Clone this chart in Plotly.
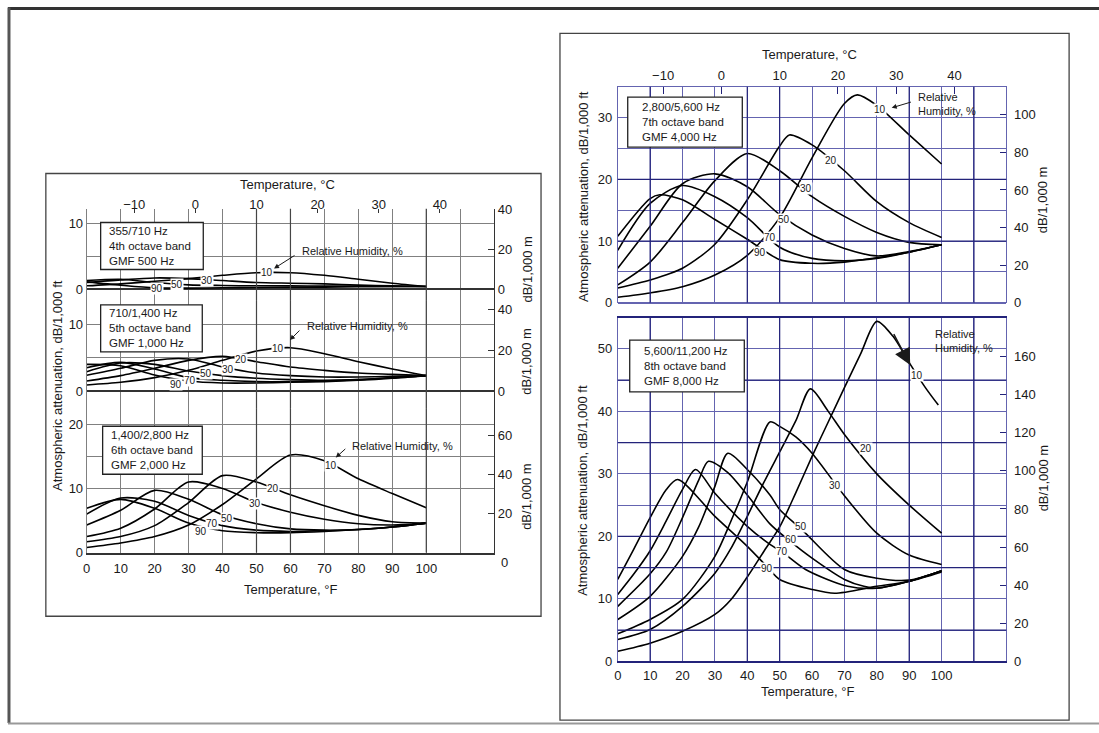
import plotly.graph_objects as go

W, H = 1099, 733
FONT = "Liberation Sans, Arial, sans-serif"
M_PER_FT = 3.2808  # dB/1,000 m -> dB/1,000 ft divisor

# ---------------- data (°F, dB/1,000 ft) ----------------
T_STD = [0, 10, 20, 30, 40, 50, 60, 70, 80, 90, 100]

# 4th octave band, GMF 500 Hz
A_RH10 = [0.5, 0.8, 1.2, 1.6, 2.1, 2.5, 2.5, 2.1, 1.5, 0.9, 0.4]
A_RH30 = [1.0, 1.4, 1.7, 1.6, 1.3, 1.0, 0.9, 0.8, 0.6, 0.5, 0.4]
A_RH50 = [1.3, 1.5, 1.0, 0.65, 0.55, 0.5, 0.5, 0.45, 0.45, 0.4, 0.4]
A_RH90 = [1.1, 0.6, 0.2, 0.15, 0.2, 0.25, 0.3, 0.3, 0.35, 0.4, 0.4]

# 5th octave band, GMF 1,000 Hz
B_RH10 = [0.9, 1.3, 2.0, 3.1, 4.6, 6.0, 6.5, 5.6, 4.4, 3.3, 2.3]
B_RH20 = [1.5, 2.3, 3.4, 4.6, 5.2, 4.4, 3.6, 3.1, 2.7, 2.5, 2.3]
B_RH30 = [2.35, 3.4, 4.6, 4.8, 3.6, 2.7, 2.3, 2.1, 2.1, 2.2, 2.3]
B_RH50 = [2.9, 4.2, 4.0, 3.0, 2.3, 1.9, 1.7, 1.6, 1.7, 2.0, 2.3]
B_RH70 = [3.5, 4.3, 3.3, 2.0, 1.6, 1.4, 1.4, 1.5, 1.7, 2.0, 2.3]
B_RH90 = [4.0, 3.8, 2.4, 1.5, 1.2, 1.2, 1.3, 1.4, 1.6, 1.9, 2.3]

# 6th octave band, GMF 2,000 Hz
C_RH10 = [0.8, 1.5, 2.5, 4.3, 7.5, 11.5, 15.2, 14.3, 11.5, 9.2, 7.0]
C_RH20 = [1.7, 2.5, 4.2, 7.8, 12.0, 11.0, 9.0, 7.3, 5.8, 4.8, 4.6]
C_RH30 = [2.5, 3.8, 6.8, 11.0, 10.0, 7.8, 6.3, 5.2, 4.5, 4.3, 4.6]
C_RH50 = [4.3, 6.6, 9.7, 8.3, 5.9, 4.5, 3.7, 3.5, 3.6, 4.0, 4.6]
C_RH70 = [6.0, 8.5, 8.0, 5.8, 4.2, 3.5, 3.3, 3.4, 3.6, 4.0, 4.6]
C_RH90 = [6.9, 8.3, 6.9, 4.6, 3.4, 3.1, 3.1, 3.3, 3.6, 4.0, 4.6]

# 7th octave band, GMF 4,000 Hz
D_T10 = [0, 10, 20, 30, 40, 50, 60, 70, 74, 80, 90, 100]
D_RH10 = [0.9, 1.6, 2.6, 4.5, 7.7, 13.8, 23.5, 32.3, 33.7, 32.0, 27.2, 22.5]
D_T20 = [0, 10, 20, 30, 40, 50, 53, 60, 70, 80, 90, 100]
D_RH20 = [2.4, 3.7, 5.6, 9.5, 16.7, 25.4, 27.2, 25.6, 21.4, 16.4, 13.0, 10.6]
D_RH30 = [2.9, 6.6, 13.0, 19.8, 24.2, 21.4, 17.2, 14.0, 11.4, 9.8, 9.4]
D_RH50 = [5.6, 12.4, 19.3, 20.9, 18.8, 14.3, 11.0, 8.8, 7.6, 8.3, 9.4]
D_RH70 = [8.5, 16.1, 19.0, 17.2, 13.8, 9.0, 7.2, 6.8, 7.2, 8.2, 9.4]
D_T90 = [0, 10, 13, 20, 30, 40, 50, 60, 70, 80, 90, 100]
D_RH90 = [10.8, 16.9, 17.5, 16.7, 13.5, 10.3, 7.0, 6.4, 6.6, 7.3, 8.2, 9.4]

# 8th octave band, GMF 8,000 Hz
E_T10 = [0, 10, 20, 30, 35, 40, 45, 50, 55, 60, 65, 70, 75, 80, 85, 90, 95, 99]
E_RH10 = [1.6, 2.9, 4.8, 7.5, 9.9, 13.5, 17.5, 21.5, 27.0, 32.8, 38.3, 43.8, 49.2, 54.4, 52.0, 47.8, 43.8, 41.0]
E_T20 = [0, 10, 20, 30, 35, 40, 45, 50, 55, 59.5, 65, 70, 80, 90, 100]
E_RH20 = [3.5, 5.1, 8.8, 14.1, 18.1, 23.2, 28.5, 33.5, 38.5, 43.6, 40.0, 36.3, 30.0, 25.0, 20.5]
E_T30 = [0, 10, 20, 30, 35, 40, 47, 50, 55, 60, 70, 80, 90, 100]
E_RH30 = [4.4, 6.7, 9.9, 16.8, 22.5, 28.7, 38.3, 37.6, 35.9, 33.3, 26.5, 20.5, 17.0, 15.5]
E_T50 = [0, 10, 20, 25, 30, 34, 40, 47, 50, 57, 70, 80, 90, 100]
E_RH50 = [6.7, 10.4, 16.8, 21.5, 28.0, 33.3, 30.7, 26.6, 24.3, 21.0, 14.7, 13.3, 13.0, 14.5]
E_T60 = [0, 10, 15, 20, 25, 28, 34, 40, 47, 53, 60, 70, 76, 80, 90, 100]
E_RH60 = [8.8, 14.0, 17.5, 23.0, 29.0, 32.0, 30.2, 26.6, 22.0, 19.3, 16.5, 13.1, 12.0, 11.7, 12.8, 14.5]
E_T70 = [0, 5, 10, 15, 20, 24, 30, 40, 47, 51, 58, 71, 80, 90, 100]
E_RH70 = [10.7, 14.0, 17.7, 22.5, 27.5, 30.7, 26.9, 21.6, 18.7, 17.4, 14.7, 12.0, 11.7, 12.8, 14.5]
E_T90 = [0, 5, 10, 15, 18.5, 30, 40, 46, 50, 60, 67, 80, 90, 100]
E_RH90 = [13.1, 18.0, 23.0, 27.5, 29.1, 23.2, 18.4, 15.2, 13.1, 11.5, 10.9, 12.0, 12.8, 14.3]

F_TICKS = [0, 10, 20, 30, 40, 50, 60, 70, 80, 90, 100, 110]
C_TICKS = [-10, 0, 10, 20, 30, 40]

# heavier grid lines seen in the scan
L_DARK_F = [50, 60, 100]
R_DARK_F = [10, 40, 50, 90, 110]
D_DARK_Y = [10, 20]
E_DARK_Y = [5, 15, 20, 35, 45]

# band boxes
BOX_A = ["355/710 Hz", "4th octave band", "GMF 500 Hz"]
BOX_B = ["710/1,400 Hz", "5th octave band", "GMF 1,000 Hz"]
BOX_C = ["1,400/2,800 Hz", "6th octave band", "GMF 2,000 Hz"]
BOX_D = ["2,800/5,600 Hz", "7th octave band", "GMF 4,000 Hz"]
BOX_E = ["5,600/11,200 Hz", "8th octave band", "GMF 8,000 Hz"]

# curve labels (°F, value)
LBL_A = [("10", 53, 2.5), ("30", 35.3, 1.35), ("50", 26.5, 0.7), ("90", 20.6, 0.1)]
LBL_B = [("10", 56.3, 6.4), ("20", 45.3, 4.7), ("30", 41.6, 3.3), ("50", 35, 2.6), ("70", 30.4, 1.6), ("90", 26.4, 1.0)]
LBL_C = [("10", 72, 13.6), ("20", 54.8, 10.0), ("30", 49.5, 7.7), ("50", 41.3, 5.3), ("70", 36.9, 4.6), ("90", 33.8, 3.3)]
LBL_D = [("10", 81, 31.3), ("20", 66, 23.0), ("30", 58, 18.5), ("50", 51.3, 13.5), ("70", 47, 10.6), ("90", 44, 8.2)]
LBL_E = [("10", 92.5, 45.7), ("20", 76.7, 34.1), ("30", 67.2, 28.2), ("50", 56.6, 21.6), ("60", 53.4, 19.5), ("70", 50.8, 17.6), ("90", 46, 14.9)]

# ---------------- geometry helpers ----------------
def fx(px):
    return px / W

def fy(py):
    return 1 - py / H

def ydom(top, bot, zero, ppu):
    return [fy(bot), fy(top)], [(zero - bot) / ppu, (zero - top) / ppu]

L_X0, L_X120 = 83, 492
R_X0, R_X120 = 616, 1006
XDOM_L = [fx(L_X0), fx(L_X120)]
XDOM_R = [fx(R_X0), fx(R_X120)]
F_RANGE = [0, 120]
C_RANGE = [(0 - 32) / 1.8, (120 - 32) / 1.8]

DOM_A, RNG_A = ydom(206, 300, 288, 6.7)
DOM_B, RNG_B = ydom(300, 410, 392, 6.8)
DOM_C, RNG_C = ydom(410, 557, 557, 6.55)
DOM_D, RNG_D = ydom(81.5, 302, 302, 6.3)
DOM_E, RNG_E = ydom(317, 668, 668, 6.38)

GRAY = "#808080"
GRAY_D = "#454545"
DARK = "#333333"
BLUE = "#6464b0"
NAVY = "#23237a"

fig = go.Figure()

def curve(t, v, xa, ya):
    fig.add_trace(go.Scatter(x=t, y=v, xaxis=xa, yaxis=ya, mode="lines",
                             line=dict(color="black", width=1.6, shape="spline", smoothing=0.8),
                             showlegend=False, hoverinfo="skip"))

for v in (A_RH10, A_RH30, A_RH50, A_RH90):
    curve(T_STD, v, "x", "y")
for v in (B_RH10, B_RH20, B_RH30, B_RH50, B_RH70, B_RH90):
    curve(T_STD, v, "x", "y2")
for v in (C_RH10, C_RH20, C_RH30, C_RH50, C_RH70, C_RH90):
    curve(T_STD, v, "x", "y3")
curve(D_T10, D_RH10, "x3", "y7")
curve(D_T20, D_RH20, "x3", "y7")
curve(T_STD, D_RH30, "x3", "y7")
curve(T_STD, D_RH50, "x3", "y7")
curve(T_STD, D_RH70, "x3", "y7")
curve(D_T90, D_RH90, "x3", "y7")
for t, v in ((E_T10, E_RH10), (E_T20, E_RH20), (E_T30, E_RH30), (E_T50, E_RH50),
             (E_T60, E_RH60), (E_T70, E_RH70), (E_T90, E_RH90)):
    curve(t, v, "x3", "y8")

# placeholders so that the overlay axes are drawn
for xa, ya in (("x2", "y"), ("x", "y4"), ("x", "y5"), ("x", "y6"),
               ("x4", "y7"), ("x3", "y9"), ("x3", "y10")):
    fig.add_trace(go.Scatter(x=[None], y=[None], xaxis=xa, yaxis=ya, mode="lines",
                             showlegend=False, hoverinfo="skip"))

TICKF = dict(family=FONT, size=13, color="#1a1a1a")

def lab(vals, show):
    return [str(v) if v in show else "" for v in vals]

layout = dict(
    width=W, height=H, autosize=False,
    margin=dict(l=0, r=0, t=0, b=0),
    paper_bgcolor="white", plot_bgcolor="white",
    font=dict(family=FONT, size=13, color="#1a1a1a"),
    showlegend=False,
    # ---- left panel ----
    xaxis=dict(domain=XDOM_L, range=F_RANGE, anchor="y3", tickvals=F_TICKS,
               ticktext=lab(F_TICKS, range(0, 101, 10)), ticks="", showgrid=True,
               gridcolor=GRAY, gridwidth=1, zeroline=False, showline=True, linecolor=DARK,
               linewidth=1.5, tickfont=TICKF, ticklabelstandoff=3),
    xaxis2=dict(overlaying="x", anchor="y", side="top", range=C_RANGE, tickvals=C_TICKS,
                ticks="inside", ticklen=4, tickcolor=DARK, showgrid=False, zeroline=False,
                showline=False, tickfont=TICKF, ticklabelstandoff=-4),
    yaxis=dict(domain=DOM_A, range=RNG_A, anchor="x", tickvals=[0, 5, 10], ticktext=["0", "", "10"],
               ticks="", showgrid=True, gridcolor=GRAY, zeroline=True, zerolinecolor=DARK,
               zerolinewidth=2, showline=True, linecolor=GRAY, tickfont=TICKF),
    yaxis2=dict(domain=DOM_B, range=RNG_B, anchor="x", tickvals=[0, 5, 10], ticktext=["0", "", "10"],
                ticks="", showgrid=True, gridcolor=GRAY, zeroline=True, zerolinecolor=DARK,
                zerolinewidth=2, showline=True, linecolor=GRAY, tickfont=TICKF),
    yaxis3=dict(domain=DOM_C, range=RNG_C, anchor="x", tickvals=[0, 10, 15, 20],
                ticktext=["0", "10", "", "20"], ticks="", showgrid=True, gridcolor=GRAY,
                zeroline=False, showline=True, linecolor=GRAY, tickfont=TICKF),
    yaxis4=dict(overlaying="y", side="right", anchor="x", range=RNG_A,
                tickvals=[v / M_PER_FT for v in (0, 20, 40)], ticktext=["0", "20", "40"],
                ticks="inside", ticklen=6, tickcolor=DARK, showgrid=False, zeroline=False,
                showline=True, linecolor=DARK, tickfont=TICKF),
    yaxis5=dict(overlaying="y2", side="right", anchor="x", range=RNG_B,
                tickvals=[v / M_PER_FT for v in (0, 20, 40)], ticktext=["0", "20", "40"],
                ticks="inside", ticklen=6, tickcolor=DARK, showgrid=False, zeroline=False,
                showline=True, linecolor=DARK, tickfont=TICKF),
    yaxis6=dict(overlaying="y3", side="right", anchor="x", range=RNG_C,
                tickvals=[v / M_PER_FT for v in (20, 40, 60)], ticktext=["20", "40", "60"],
                ticks="inside", ticklen=6, tickcolor=DARK, showgrid=False, zeroline=False,
                showline=True, linecolor=DARK, tickfont=TICKF),
    # ---- right panel ----
    xaxis3=dict(domain=XDOM_R, range=F_RANGE, anchor="y8", tickvals=F_TICKS,
                ticktext=lab(F_TICKS, range(0, 101, 10)), ticks="", showgrid=True,
                gridcolor=BLUE, gridwidth=1, zeroline=False, showline=True, mirror=True,
                linecolor=NAVY, linewidth=1.5, tickfont=TICKF, ticklabelstandoff=1),
    xaxis4=dict(overlaying="x3", anchor="y7", side="top", range=C_RANGE, tickvals=C_TICKS,
                ticks="inside", ticklen=7, tickcolor=NAVY, showgrid=False, zeroline=False,
                showline=True, linecolor=BLUE, tickfont=TICKF, ticklabelstandoff=1),
    yaxis7=dict(domain=DOM_D, range=RNG_D, anchor="x3", tickvals=list(range(0, 36, 5)),
                ticktext=lab(range(0, 36, 5), (0, 10, 20, 30)), ticks="", showgrid=True,
                gridcolor=BLUE, zeroline=True, zerolinecolor=BLUE, zerolinewidth=1.5,
                showline=True, linecolor=BLUE, tickfont=TICKF, ticklabelstandoff=2),
    yaxis8=dict(domain=DOM_E, range=RNG_E, anchor="x3", tickvals=list(range(0, 56, 5)),
                ticktext=lab(range(0, 56, 5), (0, 10, 20, 30, 40, 50)), ticks="", showgrid=True,
                gridcolor=BLUE, zeroline=False, showline=True, linecolor=BLUE, tickfont=TICKF,
                ticklabelstandoff=2),
    yaxis9=dict(overlaying="y7", side="right", anchor="x3", range=RNG_D,
                tickvals=[v / M_PER_FT for v in range(0, 101, 20)],
                ticktext=[str(v) for v in range(0, 101, 20)], ticks="inside", ticklen=6,
                tickcolor=NAVY, showgrid=False, zeroline=False, showline=True, linecolor=BLUE,
                tickfont=TICKF, ticklabelstandoff=4),
    yaxis10=dict(overlaying="y8", side="right", anchor="x3", range=RNG_E,
                 tickvals=[v / M_PER_FT for v in range(0, 161, 20)],
                 ticktext=[str(v) for v in range(0, 161, 20)], ticks="inside", ticklen=6,
                 tickcolor=NAVY, showgrid=False, zeroline=False, showline=True, linecolor=BLUE,
                 tickfont=TICKF, ticklabelstandoff=4),
)
fig.update_layout(**layout)

shapes = []
ann = []

# heavier grid lines (listed first so the band boxes cover them)
for f in L_DARK_F:
    for yd in ("y domain", "y2 domain", "y3 domain"):
        shapes.append(dict(type="line", xref="x", yref=yd, x0=f, x1=f, y0=0, y1=1,
                           line=dict(color=GRAY_D, width=1.2), layer="above"))
for f in R_DARK_F:
    for yd in ("y7 domain", "y8 domain"):
        shapes.append(dict(type="line", xref="x3", yref=yd, x0=f, x1=f, y0=0, y1=1,
                           line=dict(color=NAVY, width=1.2), layer="above"))
for v in D_DARK_Y:
    shapes.append(dict(type="line", xref="x3 domain", yref="y7", x0=0, x1=1, y0=v, y1=v,
                       line=dict(color=NAVY, width=1.2), layer="above"))
for v in E_DARK_Y:
    shapes.append(dict(type="line", xref="x3 domain", yref="y8", x0=0, x1=1, y0=v, y1=v,
                       line=dict(color=NAVY, width=1.2), layer="above"))

# outer frame of the page (kept inside the canvas)
shapes.append(dict(type="line", xref="paper", yref="paper", x0=fx(4), x1=1.0, y0=fy(1.5), y1=fy(1.5),
                   line=dict(color="#333", width=3)))
shapes.append(dict(type="line", xref="paper", yref="paper", x0=fx(5), x1=fx(5), y0=fy(0.5), y1=fy(731),
                   line=dict(color="#555", width=3)))
shapes.append(dict(type="line", xref="paper", yref="paper", x0=fx(4), x1=1.0, y0=fy(731.5), y1=fy(731.5),
                   line=dict(color="#999", width=2)))
# panel frames
for x0, y0, x1, y1 in ((42, 170, 539, 622), (558, 27, 1069, 728)):
    shapes.append(dict(type="rect", xref="paper", yref="paper", x0=fx(x0), x1=fx(x1), y0=fy(y0), y1=fy(y1),
                       line=dict(color="#444", width=1.3), layer="below"))

# band boxes
def band_box(lines, x0, y0, x1, y1, tx):
    shapes.append(dict(type="rect", xref="paper", yref="paper", x0=fx(x0), x1=fx(x1), y0=fy(y0), y1=fy(y1),
                       line=dict(color="#222", width=1.3), fillcolor="white", layer="above"))
    ann.append(dict(xref="paper", yref="paper", x=fx(tx), y=fy((y0 + y1) / 2), xanchor="left",
                    yanchor="middle", align="left", showarrow=False, text="<br>".join(lines),
                    font=dict(family=FONT, size=11.5, color="#1a1a1a")))

band_box(BOX_A, 97, 220, 200, 268, 103)
band_box(BOX_B, 97, 304, 199, 352, 103)
band_box(BOX_C, 99, 428, 199, 477, 105)
band_box(BOX_D, 626, 92, 741, 143, 638)
band_box(BOX_E, 628, 340, 743, 393, 640)

# curve labels
def curve_labels(lbls, xr, yr):
    for txt, t, v in lbls:
        ann.append(dict(xref=xr, yref=yr, x=t, y=v, text=txt, showarrow=False, bgcolor="white",
                        borderpad=0, xanchor="center", yanchor="middle",
                        font=dict(family=FONT, size=10, color="#1a1a1a")))

curve_labels(LBL_A, "x", "y")
curve_labels(LBL_B, "x", "y2")
curve_labels(LBL_C, "x", "y3")
curve_labels(LBL_D, "x3", "y7")
curve_labels(LBL_E, "x3", "y8")

RHF = dict(family=FONT, size=11, color="#1a1a1a")

def arrow_data(x, y, ax, ay, xr, yr, size=1.0, width=1.0):
    ann.append(dict(xref=xr, yref=yr, x=x, y=y, ax=ax, ay=ay, axref=xr, ayref=yr, text="",
                    showarrow=True, arrowhead=2, arrowsize=size, arrowwidth=width, arrowcolor="#1a1a1a"))

def arrow_px(hx, hy, sx, sy):
    ann.append(dict(xref="paper", yref="paper", x=fx(hx), y=fy(hy), ax=sx - hx, ay=sy - hy,
                    axref="pixel", ayref="pixel", text="", showarrow=True, arrowhead=2,
                    arrowsize=1.0, arrowwidth=1.0, arrowcolor="#1a1a1a"))

# "Relative Humidity, %" notes, left panel (pixel placed)
for tx, ty, hx, hy, sx, sy in ((297, 249, 271, 267, 293, 253),
                               (302, 326, 287, 340, 298, 329),
                               (347, 448, 333, 460, 344, 450)):
    ann.append(dict(xref="paper", yref="paper", x=fx(tx), y=fy(ty), xanchor="left", yanchor="middle",
                    text="Relative Humidity, %", showarrow=False, font=RHF))
    arrow_px(hx, hy, sx, sy)

# right panel notes
ann.append(dict(xref="x3", yref="y7", x=92, y=32.2, xanchor="left", yanchor="middle", align="left",
                text="Relative<br>Humidity, %", showarrow=False, font=RHF))
arrow_data(84.6, 31.6, 91.0, 32.6, "x3", "y7")
ann.append(dict(xref="x3", yref="y8", x=97.5, y=51.2, xanchor="left", yanchor="middle", align="left",
                text="Relative<br>Humidity, %", showarrow=False, font=RHF))
arrow_data(90.3, 47.4, 85.0, 52.6, "x3", "y8", size=2.2, width=1.5)

# stray right-axis zero of the 6th band
ann.append(dict(xref="paper", yref="paper", x=fx(497), y=fy(567), text="0", showarrow=False,
                xanchor="left", yanchor="middle", font=TICKF))

# axis titles
TF = dict(family=FONT, size=13, color="#1a1a1a")
for x, y, txt in ((285, 181, "Temperature, °C"), (288, 595, "Temperature, °F"),
                  (808, 48, "Temperature, °C"), (806, 699, "Temperature, °F")):
    ann.append(dict(xref="paper", yref="paper", x=fx(x), y=fy(y), text=txt, showarrow=False, font=TF,
                    xanchor="center", yanchor="middle"))
for x, y in ((53, 386), (581, 193), (581, 493)):
    ann.append(dict(xref="paper", yref="paper", x=fx(x), y=fy(y), text="Atmospheric attenuation, dB/1,000 ft",
                    textangle=-90, showarrow=False, font=TF, xanchor="center", yanchor="middle"))
for x, y in ((525, 268), (525, 362), (525, 500), (1043, 197), (1043, 481)):
    ann.append(dict(xref="paper", yref="paper", x=fx(x), y=fy(y), text="dB/1,000 m",
                    textangle=-90, showarrow=False, font=TF, xanchor="center", yanchor="middle"))

fig.update_layout(shapes=shapes, annotations=ann)
fig.write_html("out.html")
